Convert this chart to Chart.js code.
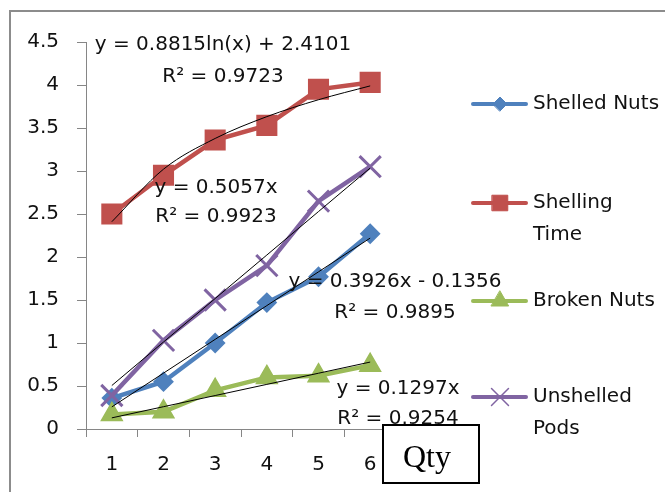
<!DOCTYPE html>
<html>
<head>
<meta charset="utf-8">
<title>Nut shelling trials</title>
<script src="https://cdn.jsdelivr.net/npm/chart.js@4.4.1/dist/chart.umd.min.js"></script>
<style>
  html, body { margin: 0; padding: 0; background: #ffffff; }
  #wrap { position: relative; width: 665px; height: 492px; overflow: hidden; }
  canvas { display: block; }
</style>
</head>
<body>
<div id="wrap"><canvas id="chart" width="665" height="492"></canvas></div>
<script>
// ---- data ----
const categories    = ['1', '2', '3', '4', '5', '6'];
const shelledNuts   = [0.36, 0.55, 1.00, 1.47, 1.77, 2.27];
const shellingTime  = [2.50, 2.95, 3.36, 3.53, 3.95, 4.03];
const brokenNuts    = [0.17, 0.20, 0.45, 0.60, 0.62, 0.74];
const unshelledPods = [0.39, 1.03, 1.50, 1.90, 2.65, 3.05];
const yTicks        = [0, 0.5, 1, 1.5, 2, 2.5, 3, 3.5, 4, 4.5];

// fitted trendlines: kind, coefficient a, constant b, R²
const fitShelledNuts   = ['linear', 0.3926, -0.1356, 0.9895];
const fitShellingTime  = ['log',    0.8815,  2.4101, 0.9723];
const fitBrokenNuts    = ['linear', 0.1297,  0,      0.9254];
const fitUnshelledPods = ['linear', 0.5057,  0,      0.9923];

const seriesNames = ['Shelled Nuts', 'Shelling Time', 'Broken Nuts', 'Unshelled Pods'];

// ---- helpers ----
const FONT = '"DejaVu Sans", sans-serif';
const TEXT = '#111111';
const AXIS = '#868686';

function fitValue(fit, x) {
  const [kind, a, b] = fit;
  return kind === 'log' ? a * Math.log(x) + b : a * x + b;
}
function fitLabel(fit) {
  const [kind, a, b] = fit;
  let s = 'y = ' + a.toFixed(4) + (kind === 'log' ? 'ln(x)' : 'x');
  if (b > 0) s += ' + ' + b.toFixed(4);
  else if (b < 0) s += ' - ' + Math.abs(b).toFixed(4);
  return s;
}
function trendData(fit) {
  return categories.map(c => fitValue(fit, Number(c)));
}

const colors = ['#4F81BD', '#C0504D', '#9BBB59', '#8064A2'];

function series(i, values, style, radius, bw) {
  return {
    label: seriesNames[i],
    data: values,
    borderColor: colors[i],
    backgroundColor: colors[i],
    borderWidth: 4.5,
    pointStyle: style,
    pointRadius: radius,
    pointBorderWidth: bw,
    pointBorderColor: colors[i],
    pointBackgroundColor: colors[i],
    tension: 0,
    order: 4 - i
  };
}
function trend(fit) {
  return {
    label: '',
    data: trendData(fit),
    borderColor: '#000000',
    borderWidth: 1,
    pointRadius: 0,
    fill: false,
    cubicInterpolationMode: fit[0] === 'log' ? 'monotone' : 'default',
    tension: fit[0] === 'log' ? 0.4 : 0,
    order: 0
  };
}

// equation labels: [fit, centre x, equation baseline, R² baseline]
const equationLabels = [
  [fitShellingTime, 223, 50, 82],
  [fitUnshelledPods, 216, 193, 222],
  [fitShelledNuts, 395, 287, 318],
  [fitBrokenNuts, 398, 394, 424]
];

// legend rows: [series index, line y, text lines]
const legendRows = [
  [0, 104, ['Shelled Nuts']],
  [1, 203, ['Shelling', 'Time']],
  [2, 301, ['Broken Nuts']],
  [3, 397, ['Unshelled', 'Pods']]
];
const legendMarkers = [['rectRot', 7, 1], ['rect', 11, 1], ['triangle', 10, 1], ['crossRot', 12, 1.5]];

const decorations = {
  id: 'decorations',
  afterDatasetsDraw(chart) {
    const ctx = chart.ctx;
    ctx.save();
    ctx.fillStyle = TEXT;
    ctx.font = '20px ' + FONT;
    ctx.textAlign = 'center';
    ctx.textBaseline = 'alphabetic';
    equationLabels.forEach(([fit, cx, y1, y2]) => {
      ctx.fillText(fitLabel(fit), cx, y1);
      ctx.fillText('R\u00B2 = ' + fit[3].toFixed(4), cx, y2);
    });
    ctx.restore();
  },
  afterDraw(chart) {
    const ctx = chart.ctx;
    ctx.save();
    // legend
    legendRows.forEach(([i, y, lines]) => {
      ctx.strokeStyle = colors[i];
      ctx.lineWidth = 4;
      ctx.lineCap = 'round';
      ctx.beginPath();
      ctx.moveTo(473, y);
      ctx.lineTo(526, y);
      ctx.stroke();
      const [style, r, bw] = legendMarkers[i];
      ctx.fillStyle = colors[i];
      ctx.lineWidth = bw;
      Chart.helpers.drawPoint(ctx, { pointStyle: style, radius: r, borderWidth: bw }, 500, y);
      ctx.fillStyle = TEXT;
      ctx.font = '20px ' + FONT;
      ctx.textAlign = 'left';
      ctx.textBaseline = 'middle';
      lines.forEach((t, k) => ctx.fillText(t, 533, y + k * 32));
    });
    // axis title box
    ctx.fillStyle = '#ffffff';
    ctx.fillRect(383, 425, 96, 58);
    ctx.strokeStyle = '#000000';
    ctx.lineWidth = 2;
    ctx.strokeRect(383, 425, 96, 58);
    ctx.fillStyle = '#000000';
    ctx.font = '32px "Liberation Serif", serif';
    ctx.textAlign = 'center';
    ctx.textBaseline = 'alphabetic';
    ctx.fillText('Qty', 427, 467);
    // outer frame
    ctx.strokeStyle = '#8c8c8c';
    ctx.lineWidth = 2;
    ctx.strokeRect(10, 11, 720, 600);
    ctx.restore();
  }
};

new Chart(document.getElementById('chart'), {
  type: 'line',
  data: {
    labels: categories,
    datasets: [
      series(0, shelledNuts, 'rectRot', 9, 2),
      series(1, shellingTime, 'rect', 13.5, 2),
      series(2, brokenNuts, 'triangle', 12, 1.5),
      series(3, unshelledPods, 'crossRot', 15, 3),
      trend(fitShelledNuts),
      trend(fitShellingTime),
      trend(fitBrokenNuts),
      trend(fitUnshelledPods)
    ]
  },
  options: {
    responsive: false,
    animation: false,
    layout: { padding: { left: 0, top: 42, right: 269, bottom: 0 } },
    plugins: { legend: { display: false }, tooltip: { enabled: false } },
    scales: {
      x: {
        type: 'category',
        offset: true,
        grid: { display: true, drawOnChartArea: false, offset: true, tickLength: 8, color: AXIS },
        border: { display: true, color: AXIS, width: 1 },
        ticks: { color: TEXT, font: { family: FONT, size: 20 }, padding: 16, maxRotation: 0 },
        afterFit(scale) { scale.height = 63; }
      },
      y: {
        min: 0,
        max: 4.5,
        afterBuildTicks(scale) { scale.ticks = yTicks.map(v => ({ value: v })); },
        grid: { display: true, drawOnChartArea: false, tickLength: 9, color: AXIS },
        border: { display: true, color: AXIS, width: 1 },
        ticks: {
          color: TEXT,
          font: { family: FONT, size: 20 },
          padding: 18,
          callback: v => String(v)
        },
        afterFit(scale) { scale.width = 86; }
      }
    }
  },
  plugins: [decorations]
});
</script>
</body>
</html>
